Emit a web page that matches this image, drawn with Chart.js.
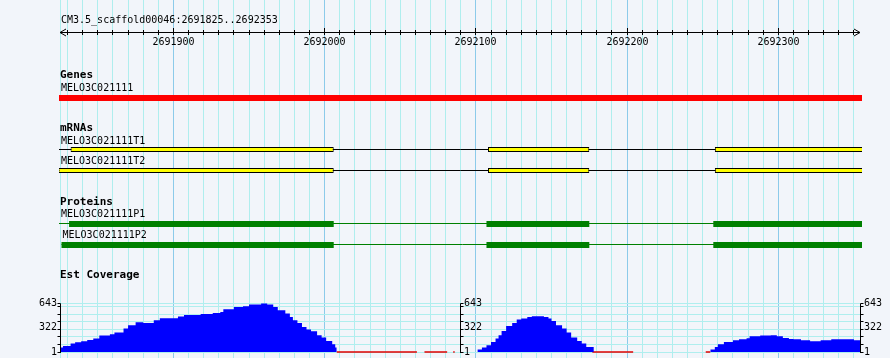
<!DOCTYPE html>
<html>
<head>
<meta charset="utf-8">
<script src="https://cdn.jsdelivr.net/npm/chart.js@4.4.1/dist/chart.umd.min.js"></script>
<style>
  html, body { margin: 0; padding: 0; background: #F2F5FA; overflow: hidden; }
  #wrap { position: relative; width: 890px; height: 358px; background: #F2F5FA; }
  canvas { display: block; }
</style>
</head>
<body>
<div id="wrap"><canvas id="chart" width="890" height="358"></canvas></div>
<script>
// ---------------- DATA ----------------
const refSeq = 'CM3.5_scaffold00046';
const viewStart = 2691825;
const viewEnd = 2692353;

// ruler
const rulerLabelValues = [2691900, 2692000, 2692100, 2692200, 2692300];
const rulerMinorStep = 10;
const rulerMajorStep = 100;

// track titles
const trackTitles = ['Genes', 'mRNAs', 'Proteins', 'Est Coverage'];

// Genes
const geneNames = ['MELO3C021111'];
const geneStarts = [2691824];
const geneEnds = [2692358];

// mRNAs
const mrnaNames = ['MELO3C021111T1', 'MELO3C021111T2'];
const mrnaStarts = [2691824, 2691824];
const mrnaEnds = [2692358, 2692358];
const t1ExonStarts = [2691832, 2692108, 2692258];
const t1ExonEnds = [2692006, 2692175, 2692358];
const t2ExonStarts = [2691824, 2692108, 2692258];
const t2ExonEnds = [2692006, 2692175, 2692358];

// Proteins
const proteinNames = ['MELO3C021111P1', 'MELO3C021111P2'];
const proteinStarts = [2691824, 2691826];
const proteinEnds = [2692358, 2692358];
const p1CdsStarts = [2691831, 2692107, 2692257];
const p1CdsEnds = [2692006, 2692175, 2692358];
const p2CdsStarts = [2691826, 2692107, 2692257];
const p2CdsEnds = [2692006, 2692175, 2692358];

// Est coverage (value holds from each start until the next start)
const covMin = 1;
const covMax = 643;
const covGridValues = [1, 101, 201, 301, 401, 501, 601, 643];
const covLabelValues = [1, 322, 643];
const covAxisAt = [2691825, 2692090, 2692354];
const covAxisSide = ['left', 'right', 'right'];

const cov1Starts = [2691825, 2691827, 2691832, 2691835, 2691839, 2691843, 2691847, 2691851, 2691858, 2691861,
                    2691867, 2691870, 2691875, 2691880, 2691887, 2691891, 2691903, 2691907, 2691918, 2691926,
                    2691931, 2691933, 2691940, 2691946, 2691950, 2691958, 2691962, 2691966, 2691969, 2691974,
                    2691977, 2691979, 2691982, 2691985, 2691988, 2691991, 2691995, 2691998, 2692001, 2692005,
                    2692007];
const cov1Values = [59, 81, 112, 130, 143, 160, 179, 219, 236, 258,
                    311, 355, 395, 386, 421, 448, 471, 492, 505, 518,
                    532, 567, 598, 607, 630, 643, 630, 598, 554, 510,
                    465, 421, 386, 333, 298, 276, 222, 192, 147, 103,
                    59];
const cov1End = 2692008;

const cov2Starts = [2692101, 2692104, 2692107, 2692110, 2692113, 2692115, 2692117, 2692120, 2692124, 2692127,
                    2692130, 2692134, 2692137, 2692145, 2692148, 2692150, 2692153, 2692157, 2692160, 2692163,
                    2692167, 2692170, 2692173];
const cov2Values = [33, 59, 90, 134, 179, 222, 280, 346, 386, 431,
                    444, 465, 474, 465, 444, 412, 355, 311, 258, 192,
                    147, 112, 67];
const cov2End = 2692178;

const cov3Starts = [2692255, 2692258, 2692260, 2692264, 2692270, 2692274, 2692279, 2692281, 2692288, 2692295,
                    2692299, 2692303, 2692307, 2692310, 2692315, 2692321, 2692328, 2692335, 2692350];
const cov3Values = [33, 67, 103, 134, 156, 169, 183, 209, 219, 222,
                    209, 187, 173, 169, 156, 143, 156, 169, 156];
const cov3End = 2692354;

const zeroCovStarts = [2692008, 2692066, 2692085, 2692177, 2692252];
const zeroCovEnds   = [2692061, 2692081, 2692086, 2692204, 2692255];

// ---------------- LAYOUT / STYLE ----------------
const W = 890, H = 358;
const AREA_LEFT = 60, AREA_RIGHT = 860;
const L = {
  titleY: 20.5, rulerY: 32.5, rulerLabelY: 42,
  genesTitleY: 75.5, geneLabelY: 88, geneBarY: 98,
  mrnaTitleY: 128.5, mrnaLabelY: [141, 161], mrnaBarY: [149.5, 170.5],
  protTitleY: 202, protLabelY: [214.5, 235.5], protBarY: [224, 245], protLineY: [223.5, 244.5],
  covTitleY: 275.5, covOnePx: 352, covMaxPx: 303.5
};
const C = {
  minorGrid: '#AFEEEE', majorGrid: '#8CCBEA', gene: '#FF0000',
  exon: '#FFFF00', protein: '#008000', cov: '#0000FF', zero: '#E00000', text: '#000000'
};
const FONT = '10px "DejaVu Sans Mono", "Liberation Mono", monospace';
const BOLD = 'bold 11px "DejaVu Sans Mono", "Liberation Mono", monospace';

// coverage scale range so that covMin / covMax land on the coverage band
const kCov = (L.covOnePx - L.covMaxPx) / (covMax - covMin);
const ycMin = covMin - (H - L.covOnePx) / kCov;
const ycMax = ycMin + H / kCov;

// vertical grid ticks
const gridTicks = [viewStart];
for (let v = Math.ceil(viewStart / rulerMinorStep) * rulerMinorStep; v <= viewEnd; v += rulerMinorStep) gridTicks.push(v);

// ---------------- DATASETS ----------------
const CLIP = { left: 1, top: false, right: 2, bottom: false };
const pairs = (starts, ends, y) => starts.map((s, i) => ({ y: y, x: [s, ends[i]] }));
const lineSeg = (s, e, y) => [{ x: s, y: y }, { x: e, y: y }];
const stepData = (starts, vals, end) => starts.map((s, i) => ({ x: s, y: vals[i] })).concat([{ x: end, y: vals[vals.length - 1] }]);

function barDs(label, data, color, thick, border) {
  return {
    type: 'bar', label, indexAxis: 'y', xAxisID: 'x', yAxisID: 'y', grouped: false,
    barThickness: thick, data, backgroundColor: color,
    borderColor: '#000', borderWidth: border ? 1 : 0, borderSkipped: false,
    inflateAmount: 0, clip: CLIP
  };
}
function lineDs(label, data, color, width, axis) {
  return {
    type: 'line', label, xAxisID: 'x', yAxisID: axis || 'y', data,
    borderColor: color, borderWidth: width, pointRadius: 0, fill: false, tension: 0, clip: CLIP
  };
}
function covDs(label, data) {
  return {
    type: 'line', label, xAxisID: 'x', yAxisID: 'yc', data, stepped: true,
    borderWidth: 0, borderColor: 'rgba(0,0,0,0)', backgroundColor: C.cov,
    fill: { value: covMin }, pointRadius: 0, tension: 0
  };
}

const datasets = [
  barDs('gene', pairs(geneStarts, geneEnds, L.geneBarY), C.gene, 6, false),
  barDs('T1 exons', pairs(t1ExonStarts, t1ExonEnds, L.mrnaBarY[0]), C.exon, 5, true),
  barDs('T2 exons', pairs(t2ExonStarts, t2ExonEnds, L.mrnaBarY[1]), C.exon, 5, true),
  barDs('P1 cds', pairs(p1CdsStarts, p1CdsEnds, L.protBarY[0]), C.protein, 6, false),
  barDs('P2 cds', pairs(p2CdsStarts, p2CdsEnds, L.protBarY[1]), C.protein, 6, false),
  lineDs('T1', lineSeg(mrnaStarts[0], mrnaEnds[0], L.mrnaBarY[0]), '#000', 1),
  lineDs('T2', lineSeg(mrnaStarts[1], mrnaEnds[1], L.mrnaBarY[1]), '#000', 1),
  lineDs('P1', lineSeg(proteinStarts[0], proteinEnds[0], L.protLineY[0]), C.protein, 1),
  lineDs('P2', lineSeg(proteinStarts[1], proteinEnds[1], L.protLineY[1]), C.protein, 1),
  covDs('cov1', stepData(cov1Starts, cov1Values, cov1End)),
  covDs('cov2', stepData(cov2Starts, cov2Values, cov2End)),
  covDs('cov3', stepData(cov3Starts, cov3Values, cov3End))
];
zeroCovStarts.forEach((s, i) => datasets.push(lineDs('zero' + i, lineSeg(s, zeroCovEnds[i], covMin), C.zero, 1.5, 'yc')));

// ---------------- DECORATION PLUGIN ----------------
const crisp = p => Math.round(p - 0.5) + 0.5;
const decor = {
  id: 'gbrowseDecor',
  afterDatasetsDraw(chart) {
    const { ctx, scales } = chart;
    const x = scales.x, yc = scales.yc;
    ctx.save();
    ctx.fillStyle = C.text; ctx.strokeStyle = C.text; ctx.lineWidth = 1;
    ctx.textBaseline = 'middle';

    // ruler title
    const xs = x.getPixelForValue(viewStart), xe = x.getPixelForValue(viewEnd + 1);
    ctx.font = FONT; ctx.textAlign = 'left';
    ctx.fillText(refSeq + ':' + viewStart + '..' + viewEnd, xs + 1, L.titleY);

    // ruler line + arrows + ticks
    ctx.beginPath();
    ctx.moveTo(xs, L.rulerY); ctx.lineTo(xe, L.rulerY);
    ctx.moveTo(xs + 6, L.rulerY - 3.5); ctx.lineTo(xs, L.rulerY); ctx.lineTo(xs + 6, L.rulerY + 3.5);
    ctx.moveTo(xe - 6, L.rulerY - 3.5); ctx.lineTo(xe, L.rulerY); ctx.lineTo(xe - 6, L.rulerY + 3.5);
    for (let v = Math.ceil(viewStart / rulerMinorStep) * rulerMinorStep; v <= viewEnd; v += rulerMinorStep) {
      const px = crisp(x.getPixelForValue(v));
      const major = v % rulerMajorStep === 0;
      ctx.moveTo(px, major ? 28 : 30); ctx.lineTo(px, 35);
    }
    ctx.stroke();
    ctx.textAlign = 'center';
    rulerLabelValues.forEach(v => ctx.fillText(String(v), crisp(x.getPixelForValue(v)), L.rulerLabelY));

    // track titles
    ctx.textAlign = 'left';
    ctx.font = BOLD;
    [L.genesTitleY, L.mrnaTitleY, L.protTitleY, L.covTitleY].forEach((ty, i) => ctx.fillText(trackTitles[i], xs, ty));

    // feature labels
    ctx.font = FONT;
    ctx.fillText(geneNames[0], Math.max(xs, x.getPixelForValue(geneStarts[0])) + 1, L.geneLabelY);
    mrnaNames.forEach((n, i) => ctx.fillText(n, Math.max(xs, x.getPixelForValue(mrnaStarts[i])) + 1, L.mrnaLabelY[i]));
    proteinNames.forEach((n, i) => ctx.fillText(n, Math.max(xs, x.getPixelForValue(proteinStarts[i])) + 1, L.protLabelY[i]));

    // coverage panel axes
    covAxisAt.forEach((a, i) => {
      const ax = crisp(x.getPixelForValue(a));
      const dir = covAxisSide[i] === 'left' ? -1 : 1;
      ctx.beginPath();
      ctx.moveTo(ax, crisp(yc.getPixelForValue(covMax)));
      ctx.lineTo(ax, crisp(yc.getPixelForValue(covMin)) + 0.5);
      covGridValues.forEach(v => {
        const py = crisp(yc.getPixelForValue(v));
        ctx.moveTo(ax, py); ctx.lineTo(ax + dir * 3, py);
      });
      ctx.stroke();
      ctx.textAlign = dir < 0 ? 'right' : 'left';
      covLabelValues.forEach(v => ctx.fillText(String(v), ax + dir * 3.5, yc.getPixelForValue(v)));
    });
    ctx.restore();
  }
};

// ---------------- CHART ----------------
new Chart(document.getElementById('chart'), {
  type: 'line',
  data: { datasets },
  options: {
    responsive: false, animation: false, devicePixelRatio: 1,
    layout: { padding: { left: AREA_LEFT, right: W - AREA_RIGHT, top: 0, bottom: 0 } },
    plugins: { legend: { display: false }, tooltip: { enabled: false }, title: { display: false } },
    events: [],
    scales: {
      x: {
        type: 'linear', axis: 'x', position: 'bottom', min: viewStart, max: viewEnd + 1, offset: false,
        afterBuildTicks: s => { s.ticks = gridTicks.map(v => ({ value: v })); },
        ticks: { display: false },
        grid: {
          drawTicks: false, lineWidth: 1, offset: false,
          color: c => (c.tick && c.tick.value % rulerMajorStep === 0) ? C.majorGrid : C.minorGrid
        },
        border: { display: false }
      },
      y: { type: 'linear', axis: 'y', position: 'left', min: 0, max: H, reverse: true, offset: false,
           grid: { offset: false }, display: false },
      yc: {
        type: 'linear', axis: 'y', position: 'left', min: ycMin, max: ycMax, offset: false,
        afterBuildTicks: s => { s.ticks = covGridValues.map(v => ({ value: v })); },
        ticks: { display: false },
        grid: { drawTicks: false, color: C.minorGrid, lineWidth: 1, offset: false },
        border: { display: false }
      }
    }
  },
  plugins: [decor]
});
</script>
</body>
</html>
